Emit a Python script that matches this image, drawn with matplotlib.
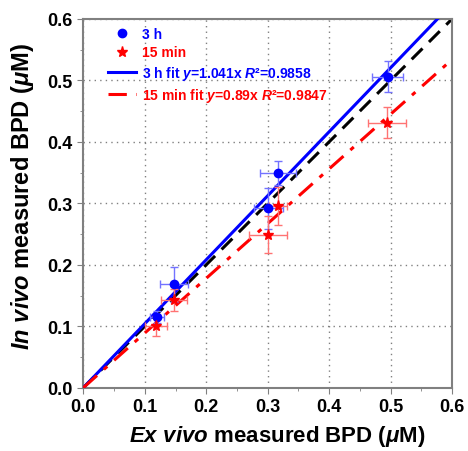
import numpy as np
import matplotlib
matplotlib.use("Agg")
import matplotlib.pyplot as plt
from matplotlib.ticker import MultipleLocator

plt.rcParams["font.family"] = ["Liberation Sans", "DejaVu Sans"]
plt.rcParams["font.weight"] = "bold"
plt.rcParams["mathtext.fontset"] = "custom"
plt.rcParams["mathtext.it"] = "Liberation Sans:italic:bold"
plt.rcParams["mathtext.rm"] = "Liberation Sans:bold"
plt.rcParams["mathtext.bf"] = "Liberation Sans:bold"

# 3 h data
x_3h = [0.120, 0.148, 0.301, 0.317, 0.495]
y_3h = [0.115, 0.168, 0.292, 0.349, 0.506]
xerr_3h = [0.012, 0.023, 0.024, 0.029, 0.025]
yerr_3h = [0.010, 0.029, 0.033, 0.020, 0.025]

# 15 min data
x_15 = [0.118, 0.147, 0.301, 0.317, 0.494]
y_15 = [0.100, 0.143, 0.249, 0.296, 0.431]
xerr_15 = [0.018, 0.021, 0.031, 0.015, 0.031]
yerr_15 = [0.016, 0.018, 0.030, 0.031, 0.025]

slope_3h = 1.041
slope_15 = 0.89

fig, ax = plt.subplots(figsize=(4.68, 4.52), dpi=100)
fig.subplots_adjust(left=0.178, right=0.966, top=0.956, bottom=0.14)

xs = np.array([0.0, 0.6])
ax.plot(xs, xs, color="black", linestyle=(0, (5, 3)), linewidth=2.2, zorder=2)
fit3, = ax.plot(xs, slope_3h * xs, color="blue", linewidth=2.2, zorder=3)
fit15, = ax.plot(xs, slope_15 * xs, color="red", linewidth=2.2, zorder=3,
                 linestyle=(0, (6, 3, 1.5, 3)))

ax.errorbar(x_3h, y_3h, xerr=xerr_3h, yerr=yerr_3h, fmt="none",
            ecolor=(0.45, 0.45, 1.0), elinewidth=1, capsize=3, zorder=4)
ax.errorbar(x_15, y_15, xerr=xerr_15, yerr=yerr_15, fmt="none",
            ecolor=(1.0, 0.45, 0.45), elinewidth=1, capsize=3, zorder=4)
pts3, = ax.plot(x_3h, y_3h, "o", color="blue", markersize=6, zorder=5)
pts15, = ax.plot(x_15, y_15, "*", color="red", markersize=8, zorder=5)

ax.set_xlim(0, 0.6)
ax.set_ylim(0, 0.6)
ax.xaxis.set_major_locator(MultipleLocator(0.1))
ax.yaxis.set_major_locator(MultipleLocator(0.1))
ax.xaxis.set_minor_locator(MultipleLocator(0.05))
ax.yaxis.set_minor_locator(MultipleLocator(0.05))
ax.xaxis.set_major_formatter(plt.FormatStrFormatter("%.1f"))
ax.yaxis.set_major_formatter(plt.FormatStrFormatter("%.1f"))
ax.tick_params(which="both", direction="out", color="gray", labelsize=13)
ax.tick_params(which="major", length=4)
ax.tick_params(which="minor", length=2)
for s in ax.spines.values():
    s.set_color("gray")
    s.set_linewidth(1.5)
ax.grid(True, color="gray", linestyle=(0, (1, 3)), linewidth=1)

ax.set_xlabel(r"$\mathit{Ex\ vivo}$ measured BPD ($\mathit{\mu}$M)",
              fontsize=16, fontweight="bold")
ax.set_ylabel(r"$\mathit{In\ vivo}$ measured BPD ($\mathit{\mu}$M)",
              fontsize=17, fontweight="bold")
ax.xaxis.set_label_coords(0.525, -0.095)
ax.yaxis.set_label_coords(-0.127, 0.52)

leg = ax.legend([pts3, pts15, fit3, fit15],
                ["3 h", "15 min",
                 r"3 h fit $y$=1.041x $R$²=0.9858",
                 r"15 min fit $y$=0.89x $R$²=0.9847"],
                loc="upper left", bbox_to_anchor=(0.045, 1.0),
                frameon=False, fontsize=10, handlelength=2.0,
                borderaxespad=0.2, labelspacing=0.3, handletextpad=0.4)
for t, c in zip(leg.get_texts(), ["blue", "red", "blue", "red"]):
    t.set_color(c)

fig.savefig("out.png", dpi=100)
